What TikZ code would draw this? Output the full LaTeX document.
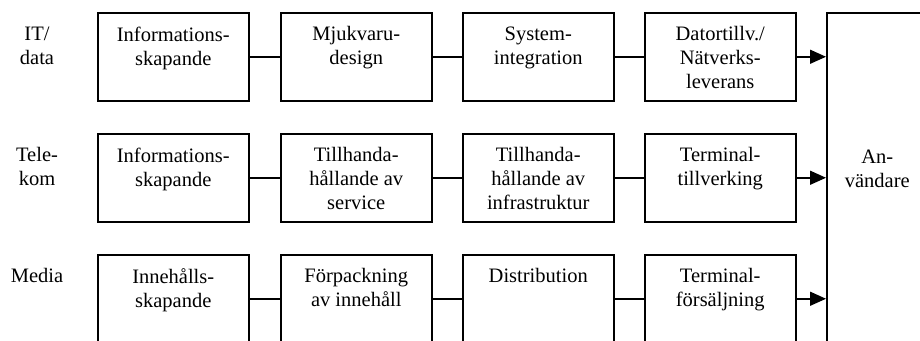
\documentclass[tikz,border=0pt]{standalone}
\usepackage{fontspec}
\setmainfont{Liberation Serif}
\usetikzlibrary{arrows.meta}

\tikzset{
    stage/.style={draw, line width=1.5pt, minimum width=151pt, minimum height=88pt,
        anchor=north west, inner sep=0pt},
    stagetext/.style={anchor=north, align=center, inner sep=0pt, yshift=-14.5pt,
        font=\fontsize{20.5}{24}\selectfont},
    rowlabel/.style={anchor=north, align=center, inner sep=0pt,
        font=\fontsize{20.5}{24}\selectfont},
    link/.style={line width=1.5pt},
    feed/.style={line width=1.5pt, -{Triangle[length=16pt,width=14pt]}},
}

\begin{document}
\begin{tikzpicture}[x=1pt,y=-1pt]
    \clip (0,0) rectangle (920,340);
    % row labels
    \node[rowlabel] (itlabel) at (37,26.5) {IT/\\data};
    \node[rowlabel] (telelabel) at (37,147.5) {Tele-\\kom};
    \node[rowlabel] (medialabel) at (37,268.5) {Media};
    % IT/data
    \node[stage, label={[stagetext]north:{Informations-\\skapande}}] (it1) at (97,12) {};
    \node[stage, label={[stagetext]north:{Mjukvaru-\\design}}] (it2) at (280,12) {};
    \node[stage, label={[stagetext]north:{System-\\integration}}] (it3) at (462,12) {};
    \node[stage, label={[stagetext]north:{Datortillv./\\Nätverks-\\leverans}}] (it4) at (644,12) {};
    % Telekom
    \node[stage, label={[stagetext]north:{Informations-\\skapande}}] (tele1) at (97,133) {};
    \node[stage, label={[stagetext]north:{Tillhanda-\\hållande av\\service}}] (tele2) at (280,133) {};
    \node[stage, label={[stagetext]north:{Tillhanda-\\hållande av\\infrastruktur}}] (tele3) at (462,133) {};
    \node[stage, label={[stagetext]north:{Terminal-\\tillverking}}] (tele4) at (644,133) {};
    % Media
    \node[stage, label={[stagetext]north:{Innehålls-\\skapande}}] (media1) at (97,254) {};
    \node[stage, label={[stagetext]north:{Förpackning\\av innehåll}}] (media2) at (280,254) {};
    \node[stage, label={[stagetext]north:{Distribution}}] (media3) at (462,254) {};
    \node[stage, label={[stagetext]north:{Terminal-\\försäljning}}] (media4) at (644,254) {};
    % users
    \node[stage, minimum width=101pt, minimum height=345pt,
        label={[rowlabel, yshift=-137.5pt]north:{An-\\vändare}}] (user) at (826,12) {};

    \draw[link] (it1) -- (it2);
    \draw[link] (it2) -- (it3);
    \draw[link] (it3) -- (it4);
    \draw[link] (tele1) -- (tele2);
    \draw[link] (tele2) -- (tele3);
    \draw[link] (tele3) -- (tele4);
    \draw[link] (media1) -- (media2);
    \draw[link] (media2) -- (media3);
    \draw[link] (media3) -- (media4);

    \draw[feed] (it4.east) -- (it4.east -| user.west);
    \draw[feed] (tele4.east) -- (tele4.east -| user.west);
    \draw[feed] (media4.east) -- (media4.east -| user.west);
\end{tikzpicture}
\end{document}
